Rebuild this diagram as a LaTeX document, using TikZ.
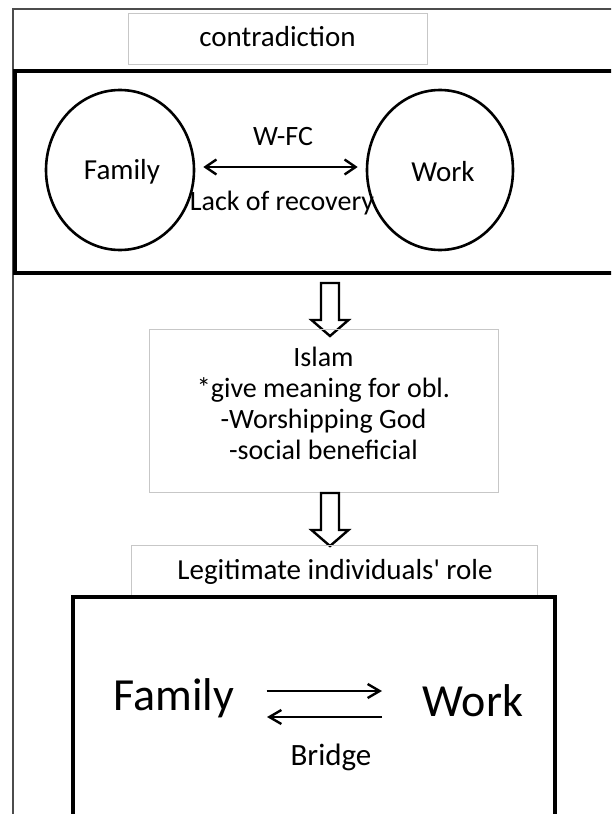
\documentclass[tikz,border=0pt]{standalone}
\usepackage{fontspec}
\setmainfont{Carlito}[Ligatures=TeXOff]
\usetikzlibrary{arrows.meta,shapes.geometric}
\begin{document}
\begin{tikzpicture}[x=1pt,y=-1pt,
  lightbox/.style={draw=black!22,line width=1pt,inner sep=0pt},
  thickbox/.style={draw=black,line width=3.4pt,inner sep=0pt},
  circ/.style={ellipse,draw=black,line width=2.6pt,inner sep=0pt},
  txt/.style={inner sep=0pt,font=\fontsize{#1}{#1}\selectfont},
  harrow/.style={line width=2.8pt,-{Straight Barb[length=12pt,width=14pt,line width=2.4pt]}},
  dblarrow/.style={line width=2.8pt,{Straight Barb[length=11pt,width=15pt,line width=2.4pt]}-{Straight Barb[length=11pt,width=15pt,line width=2.4pt]}},
  blockarrow/.style={draw=black,line width=2.4pt,fill=white,line join=miter}]
\useasboundingbox (0,0) rectangle (611,814);
\clip (0,0) rectangle (611,814);
% outer frame
\draw[draw=black!70,line width=2pt] (13,9) rectangle (660,860);
% contradiction
\node[lightbox,minimum width=299pt,minimum height=51pt] (contra) at (277.5,38.5) {};
\node[txt=29] (contratext) at (277.5,37) {contradiction};
% top box
\node[thickbox,minimum width=625pt,minimum height=202pt] (top) at (327.5,172) {};
\node[circ,minimum width=148pt,minimum height=160pt] (fam1) at (120,170) {};
\node[txt=29] (fam1text) at (122,172) {Family};
\node[circ,minimum width=146pt,minimum height=160pt] (work1) at (440,170) {};
\node[txt=29] (work1text) at (443,172) {Work};
\draw[dblarrow,shorten <=8pt,shorten >=8pt] ([yshift=3pt]fam1.east) -- ([yshift=3pt]work1.west);
\node[txt=28] (wfc) at (283,137) {W-FC};
\node[txt=28] (lack) at (282,203) {Lack of recovery};
% arrow 1
\coordinate (a1) at (330,283);
\draw[blockarrow] (a1) ++(-9,0) -- ++(18,0) -- ++(0,37) -- ++(9.5,0) -- ++(-18.5,16) -- ++(-18.5,-16) -- ++(9.5,0) -- cycle;
% Islam box
\node[lightbox,minimum width=349pt,minimum height=163pt] (islam) at (323.5,410.5) {};
\node[txt=28,align=center,font=\fontsize{28}{31}\selectfont] (islamtext) at (323.5,403) {Islam\\*give meaning for obl.\\-Worshipping God\\-social beneficial};
% arrow 2
\coordinate (a2) at (330,493);
\draw[blockarrow] (a2) ++(-9,0) -- ++(18,0) -- ++(0,37) -- ++(9.5,0) -- ++(-18.5,16) -- ++(-18.5,-16) -- ++(9.5,0) -- cycle;
% Legitimate box
\node[lightbox,minimum width=406pt,minimum height=53pt] (legit) at (334,571.5) {};
\node[txt=29] (legittext) at (335,572) {Legitimate individuals' role};
% bottom box
\draw[thickbox] (73,597) rectangle (555,860);
\node[txt=46,anchor=base] (fam2) at (174,710) {Family};
\node[txt=46,anchor=base] (work2) at (473,716) {Work};
\draw[harrow] (fam2.east |- 0,691) ++(32,0) -- (382,691);
\draw[harrow] (382,717) -- (267,717);
\node[txt=31] (bridge) at (331,757) {Bridge};
\end{tikzpicture}
\end{document}
